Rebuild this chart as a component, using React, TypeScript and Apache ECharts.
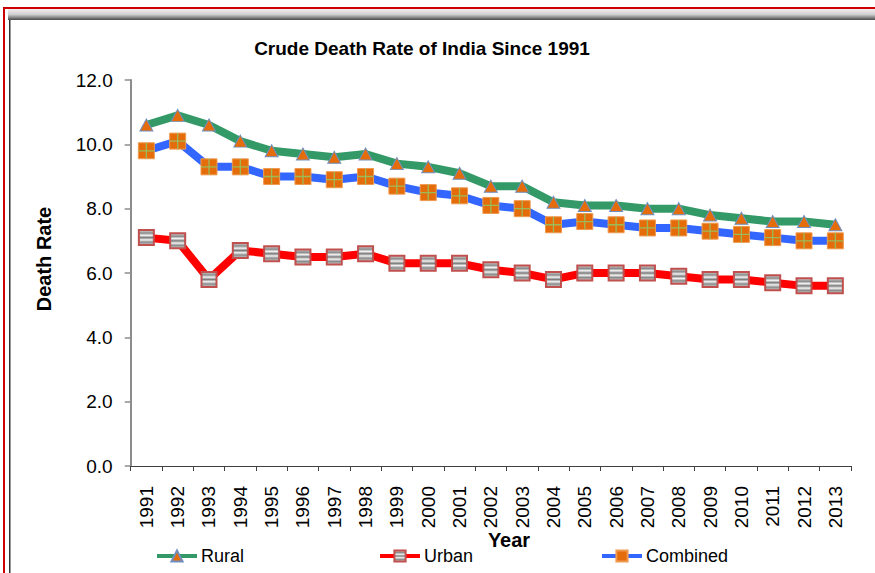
import React, { useEffect, useRef } from "react";
import * as echarts from "echarts";

const years = ["1991","1992","1993","1994","1995","1996","1997","1998","1999","2000","2001","2002","2003","2004","2005","2006","2007","2008","2009","2010","2011","2012","2013"];
const rural = [10.6,10.9,10.6,10.1,9.8,9.7,9.6,9.7,9.4,9.3,9.1,8.7,8.7,8.2,8.1,8.1,8.0,8.0,7.8,7.7,7.6,7.6,7.5];
const urban = [7.1,7.0,5.8,6.7,6.6,6.5,6.5,6.6,6.3,6.3,6.3,6.1,6.0,5.8,6.0,6.0,6.0,5.9,5.8,5.8,5.7,5.6,5.6];
const combined = [9.8,10.1,9.3,9.3,9.0,9.0,8.9,9.0,8.7,8.5,8.4,8.1,8.0,7.5,7.6,7.5,7.4,7.4,7.3,7.2,7.1,7.0,7.0];

const FONT = '"Liberation Sans", Arial, sans-serif';

export default function App() {
  const ref = useRef<HTMLDivElement>(null);
  useEffect(() => {
    if (!ref.current) return;
    const chart = echarts.init(ref.current, null, { renderer: "svg" });
    const urbanFill = new echarts.graphic.LinearGradient(0, 0, 0, 1, [
      { offset: 0, color: "#d8d8d8" },
      { offset: 0.2, color: "#8a8a8a" },
      { offset: 0.35, color: "#f4f4f4" },
      { offset: 0.5, color: "#7a7a7a" },
      { offset: 0.65, color: "#f4f4f4" },
      { offset: 0.8, color: "#8a8a8a" },
      { offset: 1, color: "#d0d0d0" },
    ]);
    const legendCommon = {
      top: 547,
      padding: 0,
      itemWidth: 40,
      itemHeight: 14,
      itemGap: 5,
      textStyle: { fontFamily: FONT, fontSize: 18, color: "#000", padding: [0, 0, 0, -1] },
      lineStyle: { width: 4 },
      selectedMode: false,
    };
    chart.setOption({
      animation: false,
      backgroundColor: "#fff",
      title: {
        text: "Crude Death Rate of India Since 1991",
        left: 417,
        top: 34,
        textAlign: "center",
        textStyle: { fontFamily: FONT, fontSize: 19, fontWeight: "bold", color: "#000" },
      },
      legend: [
        { ...legendCommon, left: 155, data: ["Rural"] },
        { ...legendCommon, left: 378, data: ["Urban"] },
        { ...legendCommon, left: 600, data: ["Combined"] },
      ],
      grid: { left: 130.7, right: 24, top: 80, bottom: 107, containLabel: false },
      xAxis: {
        type: "category",
        data: years,
        boundaryGap: true,
        axisLine: { lineStyle: { color: "#404040", width: 1 } },
        axisTick: { show: true, length: 5, lineStyle: { color: "#404040" } },
        axisLabel: { rotate: 90, margin: 20, fontFamily: FONT, fontSize: 19, color: "#000", interval: 0 },
        splitLine: { show: false },
      },
      yAxis: {
        type: "value",
        min: 0,
        max: 12,
        interval: 2,
        axisLine: { show: true, lineStyle: { color: "#8c8c8c", width: 2 } },
        axisTick: { show: true, length: 6, lineStyle: { color: "#8c8c8c", width: 1.5 } },
        axisLabel: {
          margin: 18,
          fontFamily: FONT,
          fontSize: 19,
          color: "#000",
          formatter: (v: number) => v.toFixed(1),
        },
        splitLine: { show: false },
      },
      series: [
        {
          name: "Rural",
          type: "line",
          data: rural,
          lineStyle: { color: "#339966", width: 8 },
          itemStyle: { color: "#e46c0a", borderColor: "#6f8fc0", borderWidth: 1 },
          symbol: "triangle",
          symbolSize: [13, 12],
          z: 3,
        },
        {
          name: "Urban",
          type: "line",
          data: urban,
          lineStyle: { color: "#ff0000", width: 8 },
          itemStyle: { color: urbanFill, borderColor: "#c0504d", borderWidth: 2 },
          symbol: "rect",
          symbolSize: 15,
          z: 3,
        },
        {
          name: "Combined",
          type: "line",
          data: combined,
          lineStyle: { color: "#3366ff", width: 8 },
          itemStyle: { color: "#e46c0a", borderColor: "#f09a50", borderWidth: 1 },
          symbol: "rect",
          symbolSize: 16,
          z: 3,
        },
        {
          name: "CombinedPlus",
          type: "line",
          data: combined,
          lineStyle: { width: 0, opacity: 0 },
          itemStyle: { color: "#9bbb59" },
          symbol: "path://M4.6,0h0.8v10h-0.8z M0,4.6h10v0.8h-10z",
          symbolSize: 16,
          silent: true,
          z: 4,
        },
      ],
      graphic: [
        { type: "rect", shape: { x: 3, y: 7, width: 872, height: 2 }, style: { fill: "#cc0000" } },
        { type: "rect", shape: { x: 3, y: 7, width: 2, height: 566 }, style: { fill: "#cc0000" } },
        {
          type: "rect",
          shape: { x: 8, y: 9, width: 867, height: 11 },
          style: {
            fill: new echarts.graphic.LinearGradient(0, 0, 0, 1, [
              { offset: 0, color: "#f6eeee" },
              { offset: 0.5, color: "#cfcfcf" },
              { offset: 1, color: "#4a4a4a" },
            ]),
          },
        },
        { type: "rect", shape: { x: 9, y: 20, width: 1.5, height: 553 }, style: { fill: "#333" } },
        {
          type: "text",
          x: 44,
          y: 259,
          rotation: Math.PI / 2,
          style: {
            text: "Death Rate",
            fontFamily: FONT,
            fontSize: 20,
            fontWeight: "bold",
            fill: "#000",
            textAlign: "center",
            textVerticalAlign: "middle",
          },
        },
        {
          type: "text",
          x: 509,
          y: 540,
          style: {
            text: "Year",
            fontFamily: FONT,
            fontSize: 20,
            fontWeight: "bold",
            fill: "#000",
            textAlign: "center",
            textVerticalAlign: "middle",
          },
        },
      ],
    });
    return () => chart.dispose();
  }, []);
  return (
    <div
      ref={ref}
      style={{ position: "fixed", left: 0, top: 0, width: 875, height: 573 }}
    />
  );
}
